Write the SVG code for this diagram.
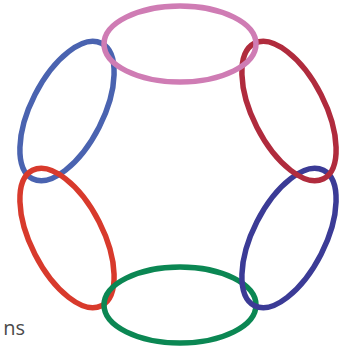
<svg xmlns="http://www.w3.org/2000/svg" width="343" height="352" viewBox="0 0 343 352">
<style>
.r{fill:none;stroke-width:5.5}
.t{font-family:"Open Sans",sans-serif;font-size:20px;fill:#4a4a4a}
</style>
<rect width="343" height="352" fill="#ffffff"/>
<g id="ring-upper-left"><ellipse class="r" cx="67" cy="111" rx="76" ry="36" transform="rotate(-63 67 111)" stroke="#4a63b0"/></g>
<g id="ring-lower-left"><ellipse class="r" cx="67" cy="238" rx="76" ry="36" transform="rotate(63 67 238)" stroke="#d83a2c"/></g>
<g id="ring-bottom"><ellipse class="r" cx="180" cy="305" rx="76" ry="38" stroke="#0b8753"/></g>
<g id="ring-lower-right"><ellipse class="r" cx="289" cy="238" rx="76" ry="36" transform="rotate(-63 289 238)" stroke="#3b3b96"/></g>
<g id="ring-upper-right"><ellipse class="r" cx="289" cy="111" rx="76" ry="36" transform="rotate(63 289 111)" stroke="#b02b3d"/></g>
<g id="ring-top"><ellipse class="r" cx="180" cy="44" rx="76" ry="38" stroke="#cf7cb4"/></g>
<g id="connectors"></g>
<text class="t" x="25" y="335" text-anchor="end">ns</text>
</svg>
